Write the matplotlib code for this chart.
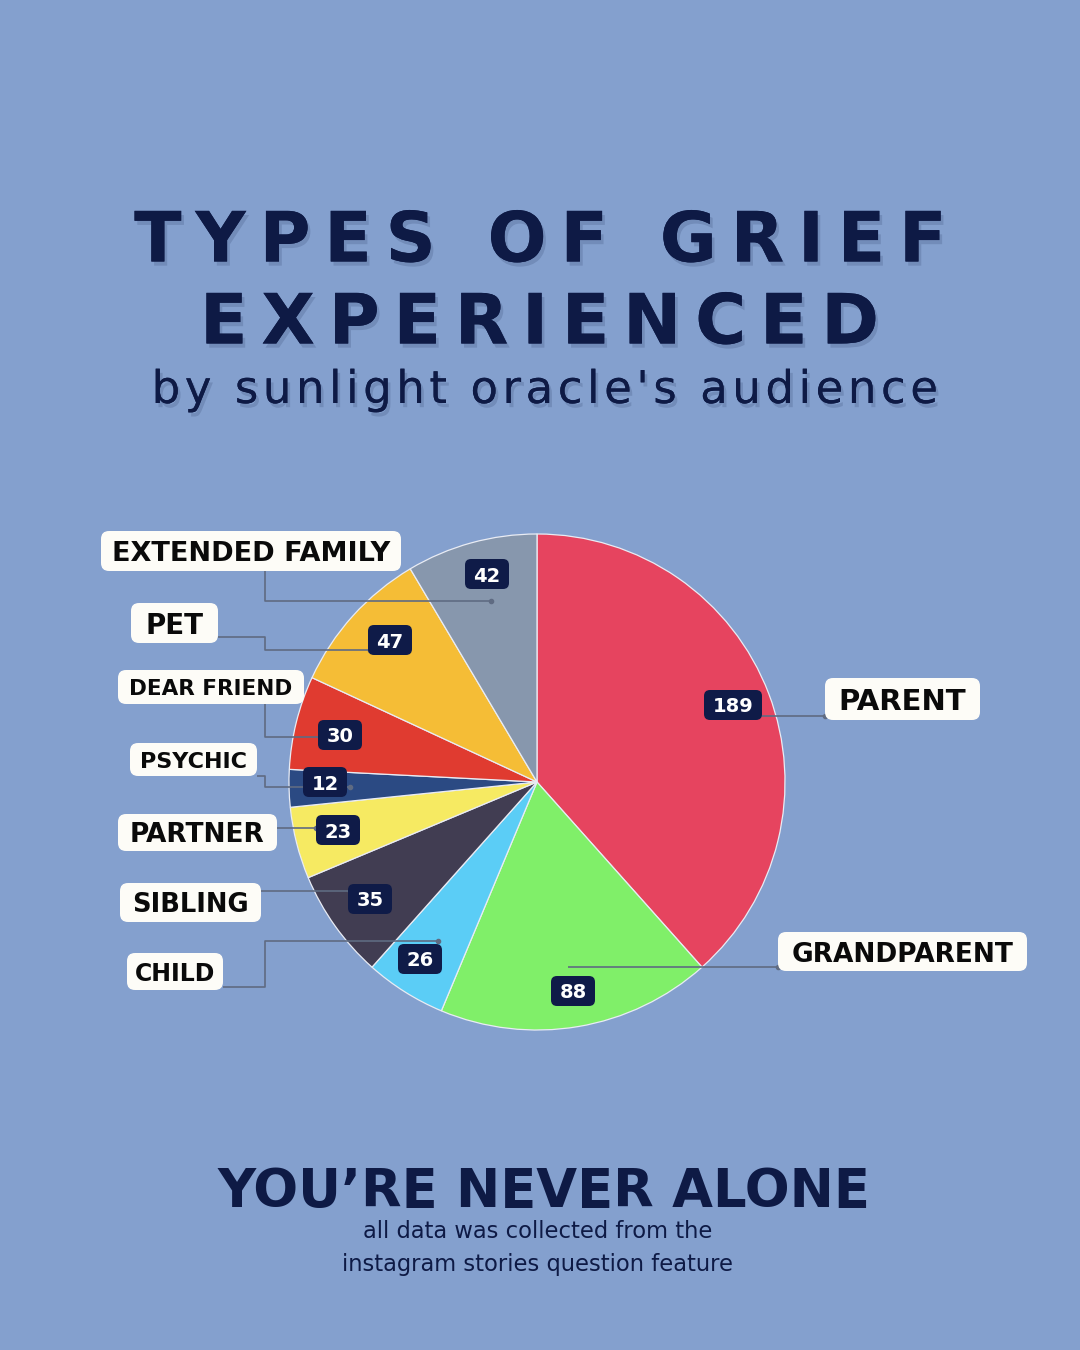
import matplotlib
matplotlib.use("Agg")
import matplotlib.pyplot as plt
from matplotlib.patches import FancyBboxPatch
import matplotlib.patheffects as pe

# ---- data ----
categories = ["PARENT", "GRANDPARENT", "CHILD", "SIBLING", "PARTNER",
              "PSYCHIC", "DEAR FRIEND", "PET", "EXTENDED FAMILY"]
values = [189, 88, 26, 35, 23, 12, 30, 47, 42]
colors = ["#E6445F", "#80EF69", "#5BCDF6", "#413D52", "#F6EA62",
          "#2B4A83", "#E03B30", "#F5BD36", "#8797AD"]

# ---- layout (pixel coords, top-left origin) ----
# label box: (x0, y0, x1, y1, fontsize)
label_boxes = [
    (825, 678, 980, 720, 21),
    (778, 932, 1027, 971, 19),
    (127, 953, 223, 990, 17),
    (120, 883, 261, 922, 18.5),
    (118, 814, 277, 851, 19),
    (130, 743, 257, 776, 16),
    (118, 670, 304, 704, 15.5),
    (131, 603, 218, 643, 20),
    (101, 531, 401, 571, 19.5),
]
badge_pos = [(733, 705), (573, 991), (420, 959), (370, 899), (338, 830),
             (325, 782), (340, 735), (390, 640), (487, 574)]
leaders = [
    [(760, 716), (825, 716)],
    [(568, 967), (778, 967)],
    [(223, 987), (265, 987), (265, 941), (438, 941)],
    [(261, 891), (350, 891)],
    [(277, 828), (316, 828)],
    [(257, 776), (265, 776), (265, 787), (350, 787)],
    [(265, 704), (265, 737), (320, 737)],
    [(218, 637), (265, 637), (265, 650), (370, 650)],
    [(265, 571), (265, 601), (491, 601)],
]

BG = "#84A0CE"
NAVY = "#0E1A45"
H = 1350
THIN = "\u2009"
HAIR = "\u200A"


def Y(y):
    return H - y


def spaced(s, sep):
    return sep.join(s)


fig = plt.figure(figsize=(10.8, 13.5), dpi=100)
fig.patch.set_facecolor(BG)
ax = fig.add_axes([0, 0, 1, 1])
ax.set_facecolor(BG)

ax.pie(values, colors=colors, startangle=90, counterclock=False,
       center=(537, Y(782)), radius=248,
       wedgeprops=dict(edgecolor="#E9ECF4", linewidth=0.9))

ax.set_xlim(0, 1080)
ax.set_ylim(0, H)
ax.set_aspect("auto")
ax.axis("off")

# leader lines
for pts in leaders:
    xs = [p[0] for p in pts]
    ys = [Y(p[1]) for p in pts]
    ax.plot(xs, ys, color="#5F6B82", lw=1.2, zorder=3, solid_capstyle="butt")
    ax.plot(xs[-1], ys[-1], "o", color="#5F6B82", ms=3, zorder=3)

# category label boxes
for cat, (x0, y0, x1, y1, fs) in zip(categories, label_boxes):
    box = FancyBboxPatch((x0, Y(y1)), x1 - x0, y1 - y0,
                         boxstyle="round,pad=0,rounding_size=8",
                         fc="#FDFCF7", ec="none", zorder=4)
    ax.add_patch(box)
    ax.text((x0 + x1) / 2, Y((y0 + y1) / 2), cat, ha="center", va="center_baseline",
            fontsize=fs, fontweight="bold", color="#0A0A0A", family="DejaVu Sans",
            zorder=5)

# value badges
for v, (cx, cy) in zip(values, badge_pos):
    w = 58 if v >= 100 else 44
    h = 30
    box = FancyBboxPatch((cx - w / 2, Y(cy) - h / 2), w, h,
                         boxstyle="round,pad=0,rounding_size=6",
                         fc="#0F1B48", ec="none", zorder=6)
    ax.add_patch(box)
    ax.text(cx, Y(cy), str(v), ha="center", va="center_baseline",
            fontsize=14, fontweight="bold", color="white",
            family="DejaVu Sans", zorder=7)

# titles
shadow = [pe.withSimplePatchShadow(offset=(2, -3), shadow_rgbFace="#2A3C66", alpha=0.2),
          pe.Normal()]
ax.text(541, Y(235), spaced("TYPES OF GRIEF", THIN), ha="center", va="center_baseline",
        fontsize=50, fontweight="heavy", color=NAVY, family="DejaVu Sans",
        path_effects=shadow)
ax.text(540, Y(317), spaced("EXPERIENCED", THIN), ha="center", va="center_baseline",
        fontsize=50, fontweight="heavy", color=NAVY, family="DejaVu Sans",
        path_effects=shadow)
ax.text(545, Y(386), spaced("by sunlight oracle's audience", HAIR), ha="center",
        va="center_baseline", fontsize=32.5, color=NAVY, family="DejaVu Sans",
        path_effects=shadow)

ax.text(544, Y(1187), "YOU\u2019RE NEVER ALONE", ha="center", va="center_baseline",
        fontsize=38, fontweight="heavy", color=NAVY, family="DejaVu Sans")
ax.text(538, Y(1229), "all data was collected from the", ha="center",
        va="center_baseline", fontsize=16.3, color=NAVY, family="DejaVu Sans")
ax.text(538, Y(1262), "instagram stories question feature", ha="center",
        va="center_baseline", fontsize=16.3, color=NAVY, family="DejaVu Sans")

fig.savefig("out.png", dpi=100, facecolor=BG)
